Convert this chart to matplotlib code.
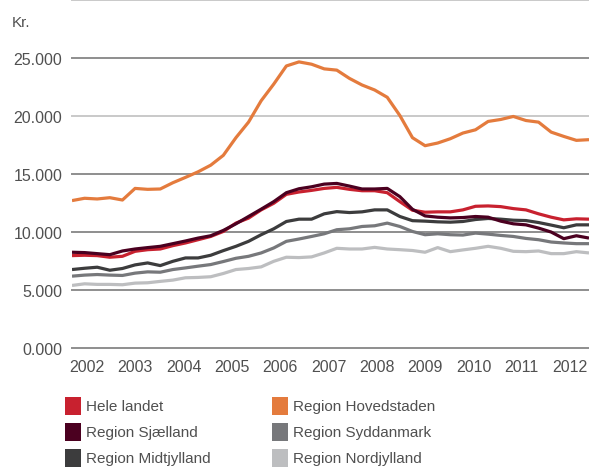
import numpy as np
import matplotlib
matplotlib.use("Agg")
import matplotlib.pyplot as plt
from matplotlib.patches import Rectangle

plt.rcParams['font.family'] = ['Liberation Sans', 'DejaVu Sans']

# quarterly index 2002Q1 .. 2012Q2
years = ['2002', '2003', '2004', '2005', '2006', '2007',
         '2008', '2009', '2010', '2011', '2012']

hele_landet = [7960, 7990, 7960, 7820, 7900, 8330, 8470, 8530, 8820, 9050,
               9330, 9610, 10040, 10760, 11190, 11900, 12470, 13240, 13440, 13580,
               13750, 13840, 13670, 13550, 13550, 13380, 12610, 11870, 11700, 11730,
               11730, 11900, 12210, 12240, 12180, 12010, 11900, 11560, 11270, 11040,
               11130, 11100]
hovedstaden = [12700, 12900, 12840, 12950, 12750, 13750, 13670, 13700, 14240, 14700,
               15180, 15750, 16600, 18120, 19460, 21300, 22740, 24300, 24650, 24450,
               24050, 23940, 23230, 22660, 22230, 21600, 20030, 18120, 17430, 17660,
               18030, 18520, 18800, 19520, 19690, 19950, 19600, 19460, 18600, 18230,
               17890, 17950]
sjaelland = [8250, 8220, 8130, 8040, 8360, 8530, 8650, 8760, 8990, 9220,
             9470, 9670, 10130, 10700, 11330, 11960, 12610, 13380, 13720, 13890,
             14120, 14180, 13950, 13700, 13700, 13750, 13040, 11950, 11380, 11270,
             11210, 11240, 11330, 11270, 10930, 10700, 10610, 10330, 9990, 9420,
             9670, 9470]
syddanmark = [6190, 6280, 6330, 6280, 6250, 6450, 6560, 6530, 6760, 6900,
              7050, 7190, 7450, 7730, 7900, 8190, 8620, 9190, 9390, 9610,
              9840, 10190, 10270, 10470, 10530, 10760, 10470, 10040, 9760, 9840,
              9760, 9730, 9900, 9810, 9700, 9610, 9440, 9330, 9130, 9050,
              8990, 8990]
midtjylland = [6760, 6870, 6960, 6700, 6850, 7160, 7330, 7100, 7470, 7760,
               7760, 7990, 8390, 8760, 9190, 9760, 10270, 10900, 11100, 11100,
               11560, 11750, 11670, 11730, 11900, 11900, 11330, 10970, 10930, 10870,
               10840, 10900, 11070, 11160, 11100, 11010, 10980, 10810, 10590, 10360,
               10610, 10610]
nordjylland = [5390, 5530, 5480, 5480, 5450, 5590, 5620, 5740, 5850, 6050,
               6080, 6140, 6420, 6760, 6850, 6990, 7470, 7820, 7790, 7850,
               8190, 8590, 8530, 8530, 8670, 8530, 8470, 8400, 8250, 8650,
               8300, 8450, 8590, 8760, 8590, 8330, 8300, 8360, 8130, 8130,
               8300, 8190]

names = ['Hele landet', 'Region Hovedstaden', 'Region Sjælland',
         'Region Syddanmark', 'Region Midtjylland', 'Region Nordjylland']
colors = ['#c8212f', '#e47b3d', '#4b0020', '#77787b', '#3c3c3d', '#bdbec0']
series = [hele_landet, hovedstaden, sjaelland, syddanmark, midtjylland, nordjylland]

fig = plt.figure(figsize=(5.89, 4.77), dpi=100)
ax = fig.add_axes([72 / 589, 1 - 349 / 477, 1 - 72 / 589, 348.2 / 477])

# gridlines
for v in range(0, 30001, 5000):
    c = '#c9c9c9' if v in (20000, 30000) else '#8e8e8e'
    ax.axhline(v, color=c, lw=1.4, zorder=1, clip_on=False)

x = np.arange(len(hele_landet))
draw_order = [5, 3, 4, 1, 0, 2]
for k in draw_order:
    ax.plot(x, series[k], color=colors[k], lw=2.3, zorder=3,
            solid_joinstyle='round', solid_capstyle='butt')

ax.set_xlim(0, len(hele_landet) - 1)
ax.set_ylim(0, 30000)
for s in ax.spines.values():
    s.set_visible(False)

ax.set_yticks(range(0, 25001, 5000))
ax.set_yticklabels([f'{v // 1000}.000' for v in range(0, 25001, 5000)])
tick_pos = 1.2 + 3.83 * np.arange(len(years))
ax.set_xticks(tick_pos)
ax.set_xticklabels(years)
ax.tick_params(axis='both', length=0, labelsize=11.5, labelcolor='#505050')
ax.tick_params(axis='y', pad=7)
ax.tick_params(axis='x', pad=8)

fig.text(12 / 589, 1 - 23 / 477, 'Kr.', fontsize=11, color='#505050',
         ha='left', va='center')

# legend, two columns
col_x = [65, 272]
row_y = [407, 433, 459]
W, H = 589, 477
for n, (name, c) in enumerate(zip(names, colors)):
    cx = col_x[n % 2]
    cy = row_y[n // 2]
    fig.add_artist(Rectangle((cx / W, 1 - (cy + 9) / H), 16 / W, 18 / H,
                             transform=fig.transFigure, facecolor=c,
                             edgecolor='none'))
    fig.text((cx + 21) / W, 1 - cy / H, name, fontsize=11, color='#505050',
             ha='left', va='center')

fig.savefig('out.png', dpi=100)
